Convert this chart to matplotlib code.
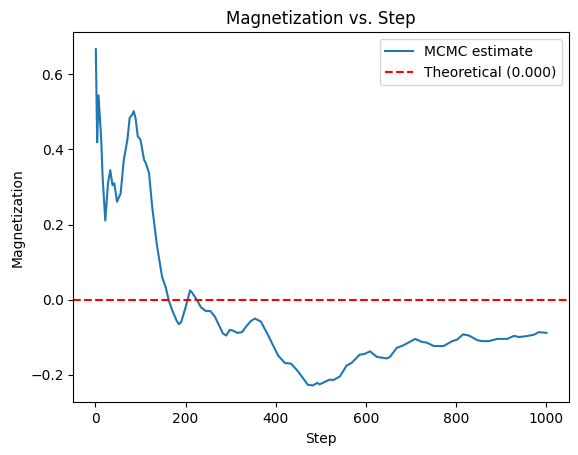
import matplotlib
matplotlib.use("Agg")
import matplotlib.pyplot as plt

# running magnetization estimate
steps = [1, 4, 7, 13, 16, 22, 28, 33, 38, 42, 48, 56, 63, 71, 76, 82, 85, 89, 94, 100,
         108, 112, 119, 126, 136, 148, 156, 163, 171, 180, 185, 190, 200, 210, 215, 225,
         234, 245, 255, 265, 275, 283, 290, 298, 305, 315, 325, 335, 345, 354, 367, 382,
         405, 420, 434, 449, 471, 482, 492, 497, 520, 527, 542, 557, 568, 586, 597, 609,
         624, 646, 653, 668, 683, 709, 724, 735, 750, 772, 791, 802, 815, 828, 846, 857,
         872, 891, 913, 928, 939, 954, 972, 983, 1000]
magnetization = [0.667, 0.419, 0.544, 0.426, 0.328, 0.211, 0.31, 0.345, 0.305, 0.31,
                 0.261, 0.283, 0.372, 0.426, 0.484, 0.493, 0.502, 0.484, 0.435, 0.426,
                 0.372, 0.363, 0.337, 0.247, 0.149, 0.06, 0.033, -0.003, -0.03, -0.055,
                 -0.065, -0.06, -0.02, 0.025, 0.018, 0.0, -0.02, -0.03, -0.03, -0.045,
                 -0.07, -0.09, -0.095, -0.08, -0.082, -0.088, -0.086, -0.07, -0.056, -0.05,
                 -0.058, -0.092, -0.148, -0.168, -0.17, -0.19, -0.226, -0.228, -0.221,
                 -0.225, -0.212, -0.214, -0.204, -0.175, -0.168, -0.146, -0.144, -0.137,
                 -0.152, -0.156, -0.152, -0.128, -0.121, -0.104, -0.112, -0.114, -0.123,
                 -0.123, -0.11, -0.106, -0.092, -0.095, -0.107, -0.11, -0.11, -0.104,
                 -0.104, -0.096, -0.099, -0.097, -0.093, -0.086, -0.088]
theoretical = 0.0

fig = plt.figure(figsize=(5.78, 4.55), dpi=100)
ax = fig.add_axes([0.1268, 0.1158, 0.8576, 0.8132])
ax.plot(steps, magnetization, label="MCMC estimate")
ax.axhline(theoretical, color="r", linestyle="--", label=f"Theoretical ({theoretical:.3f})")
ax.set_xlabel("Step")
ax.set_ylabel("Magnetization")
ax.set_title("Magnetization vs. Step")
ax.legend(loc="upper right")
fig.savefig("out.png", dpi=100)
